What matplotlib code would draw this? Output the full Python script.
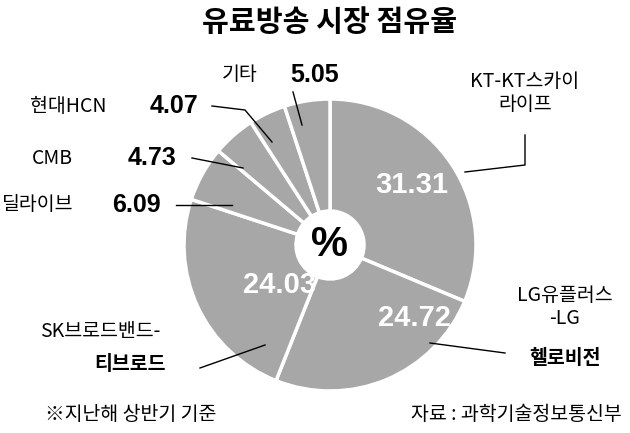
import matplotlib
matplotlib.use("Agg")
import matplotlib.pyplot as plt

plt.rcParams['font.family'] = ['Noto Sans CJK KR', 'DejaVu Sans']

names = ["KT-KT스카이라이프", "LG유플러스-LG헬로비전", "SK브로드밴드-티브로드", "딜라이브", "CMB", "현대HCN", "기타"]
values = [31.31, 24.72, 24.03, 6.09, 4.73, 4.07, 5.05]

W, H = 630, 433
fig = plt.figure(figsize=(W/100, H/100), dpi=100)
ax = fig.add_axes([0, 0, 1, 1])

def Y(y): return H - y

cx, cy, R = 330, Y(245), 146
ax.pie(values, center=(cx, cy), radius=R, startangle=90, counterclock=False,
       colors=['#a7a7a7']*len(values),
       wedgeprops=dict(width=R-34, edgecolor='white', linewidth=2.5), frame=True)
ax.set_xlim(0, W); ax.set_ylim(0, H); ax.set_aspect('equal'); ax.axis('off')
ax.text(cx, cy, "%", ha='center', va='center', fontsize=30, fontweight='bold', family='Liberation Sans')

ax.text(330, Y(22), "유료방송 시장 점유율", ha='center', va='center', fontsize=21, fontweight='bold')

big = dict(ha='center', va='center', fontsize=21, fontweight='bold', color='white', family='Liberation Sans')
ax.text(412, Y(185), f"{values[0]:.2f}", **big)
ax.text(414, Y(318), f"{values[1]:.2f}", **big)
ax.text(280, Y(285), f"{values[2]:.2f}", **big)

lbl = dict(fontsize=14, va='center')
ax.text(525, Y(93), "KT-KT스카이\n라이프", ha='center', linespacing=1.1, **lbl)
ax.plot([525, 525, 465], [Y(135), Y(165), Y(172)], color='black', lw=1)
ax.text(565, Y(307), "LG유플러스\n-LG", ha='center', linespacing=1.1, **lbl)
ax.text(565, Y(358), "헬로비전", ha='center', fontweight='bold', **lbl)
ax.plot([505, 430], [Y(353), Y(343)], color='black', lw=1)
ax.text(100, Y(332), "SK브로드밴드-", ha='center', **lbl)
ax.text(130, Y(365), "티브로드", ha='center', fontweight='bold', **lbl)
ax.plot([200, 265], [Y(368), Y(345)], color='black', lw=1)

vb = dict(fontsize=18, fontweight='bold', va='center', family='Liberation Sans')
ax.text(2, Y(205), "딜라이브", ha='left', **lbl)
ax.text(112, Y(205), f"{values[3]:.2f}", ha='left', **vb)
ax.plot([176, 232], [Y(205), Y(205)], color='black', lw=1)
ax.text(32, Y(158), "CMB", ha='left', **lbl)
ax.text(128, Y(158), f"{values[4]:.2f}", ha='left', **vb)
ax.plot([192, 243], [Y(158), Y(168)], color='black', lw=1)
ax.text(30, Y(106), "현대HCN", ha='left', **lbl)
ax.text(150, Y(106), f"{values[5]:.2f}", ha='left', **vb)
ax.plot([212, 245, 272], [Y(106), Y(110), Y(142)], color='black', lw=1)
ax.text(222, Y(75), "기타", ha='left', **lbl)
ax.text(290, Y(75), f"{values[6]:.2f}", ha='left', **vb)
ax.plot([293, 302], [Y(92), Y(125)], color='black', lw=1)

ax.text(45, Y(415), "※지난해 상반기 기준", ha='left', **lbl)
ax.text(622, Y(415), "자료 : 과학기술정보통신부", ha='right', **lbl)

fig.savefig("out.png", dpi=100)
